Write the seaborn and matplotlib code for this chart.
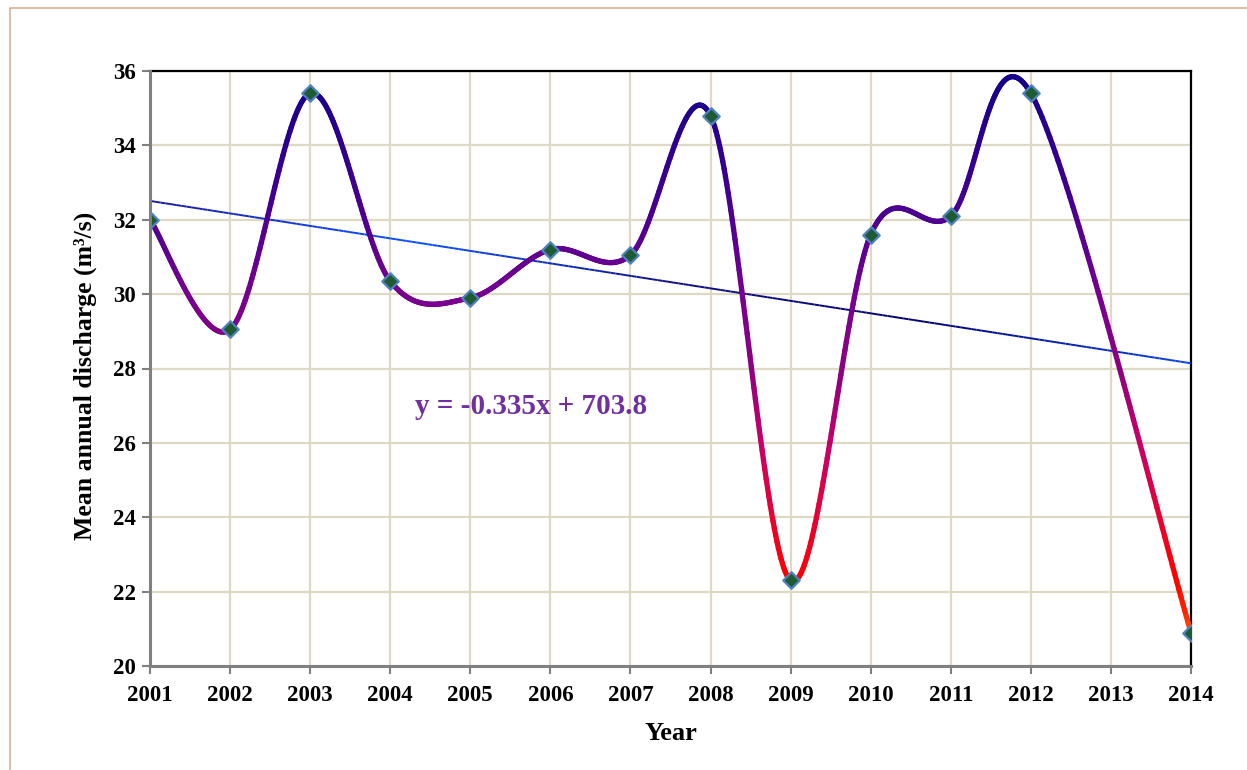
import numpy as np
import matplotlib
matplotlib.use("Agg")
import matplotlib.pyplot as plt
import seaborn as sns
import pandas as pd
from matplotlib.collections import LineCollection
from matplotlib.colors import LinearSegmentedColormap
from matplotlib.patches import Rectangle

# Mean annual discharge per year (2013 has no value)
years = [2001, 2002, 2003, 2004, 2005, 2006, 2007, 2008, 2009, 2010, 2011, 2012, 2014]
discharge = [32.0, 29.05, 35.4, 30.35, 29.9, 31.2, 31.05, 34.8, 22.3, 31.6, 32.1, 35.4, 20.9]
year_ticks = list(range(2001, 2015))
y_ticks = list(range(20, 37, 2))
equation = "y = -0.335x + 703.8"

df = pd.DataFrame({"Year": years, "Q": discharge})

sns.set_style("white")
plt.rcParams['font.family'] = ['Liberation Serif', 'DejaVu Serif']
plt.rcParams['font.weight'] = 'bold'
plt.rcParams['text.color'] = 'black'
plt.rcParams['axes.labelcolor'] = 'black'
plt.rcParams['xtick.labelcolor'] = 'black'
plt.rcParams['ytick.labelcolor'] = 'black'


def smooth(xs, ys, n=60):
    # Excel-like smoothed line: Catmull-Rom as cubic Bezier segments
    P = np.column_stack([xs, ys]).astype(float)
    out = []
    for i in range(len(P) - 1):
        p0 = P[i - 1] if i > 0 else P[i]
        p1, p2 = P[i], P[i + 1]
        p3 = P[i + 2] if i + 2 < len(P) else P[i + 1]
        c1 = p1 + (p2 - p0) / 6.0
        c2 = p2 - (p3 - p1) / 6.0
        t = np.linspace(0, 1, n)[:, None]
        seg = ((1 - t) ** 3) * p1 + 3 * ((1 - t) ** 2) * t * c1 + 3 * (1 - t) * t ** 2 * c2 + t ** 3 * p2
        out.append(seg if i == 0 else seg[1:])
    return np.vstack(out)


fig = plt.figure(figsize=(12.47, 7.70), dpi=100)
fig.patches.append(Rectangle((10 / 1247, -0.01), 1.05, 1 - 8 / 770 + 0.01, transform=fig.transFigure,
                             fill=False, edgecolor='#d8b090', linewidth=1.2))
ax = fig.add_axes([150 / 1247, 104 / 770, 1041 / 1247, 595 / 770])

# grid
ax.set_xticks(year_ticks)
ax.set_yticks(y_ticks)
ax.grid(True, color='#ddd9c3', linewidth=1.6)
ax.set_axisbelow(True)

# trend line from least squares fit
k, b = np.polyfit(years, discharge, 1)
tx = np.linspace(2001, 2014, 200)
ty = k * tx + b
tpts = np.column_stack([tx, ty]).reshape(-1, 1, 2)
tsegs = np.concatenate([tpts[:-1], tpts[1:]], axis=1)
tcmap = LinearSegmentedColormap.from_list('trend', ['#1a1aa0', '#0a50ff', '#101080', '#000070', '#0a40e0'])
tlc = LineCollection(tsegs, cmap=tcmap, linewidth=1.4, zorder=3)
tlc.set_array(np.linspace(0, 1, len(tsegs)))
ax.add_collection(tlc)

# smoothed gradient curve
curve = smooth(years, discharge)
pts = curve.reshape(-1, 1, 2)
segs = np.concatenate([pts[:-1], pts[1:]], axis=1)
stops = [(20.5, '#ff7000'), (21.4, '#ff2000'), (22.3, '#ff0000'), (24.0, '#e80030'), (26.0, '#c4006a'),
         (28.0, '#8c0080'), (30.0, '#760090'), (33.0, '#3c0090'), (36.0, '#12008a')]
lo, hi = 20.5, 36.0
cmap = LinearSegmentedColormap.from_list('q', [((v - lo) / (hi - lo), c) for v, c in stops])
lc = LineCollection(segs, cmap=cmap, linewidth=3.8, zorder=4, capstyle='round', joinstyle='round')
lc.set_array(0.5 * (segs[:, 0, 1] + segs[:, 1, 1]))
lc.set_clim(lo, hi)
ax.add_collection(lc)

sns.scatterplot(data=df, x="Year", y="Q", marker='D', s=70, color='#1e5a32',
                edgecolor='#4f81bd', linewidth=1.6, zorder=5, ax=ax, legend=False)

ax.text(2004.31, 26.98, equation, color='#7030a0', fontsize=21, fontweight='bold',
        ha='left', va='center')

ax.set_xlim(2001, 2014)
ax.set_ylim(20, 36)
ax.set_xlabel("Year", fontsize=19, fontweight='bold', labelpad=11)
ax.set_ylabel("Mean annual discharge (m\u00b3/s)", fontsize=18.5, fontweight='bold')
ax.yaxis.set_label_coords(-0.051, 0.487)
ax.tick_params(axis='both', labelsize=16.5, direction='out', length=6, width=1.5, color='#808080',
               left=True, bottom=True, pad=4)
ax.tick_params(axis='x', pad=8)
for lab in ax.get_xticklabels() + ax.get_yticklabels():
    lab.set_fontweight('bold')

for side in ['top', 'right']:
    ax.spines[side].set_color('black')
    ax.spines[side].set_linewidth(1.6)
for side in ['left', 'bottom']:
    ax.spines[side].set_color('#808080')
    ax.spines[side].set_linewidth(2.2)
    ax.spines[side].set_zorder(6)

fig.savefig("out.png", dpi=100)
